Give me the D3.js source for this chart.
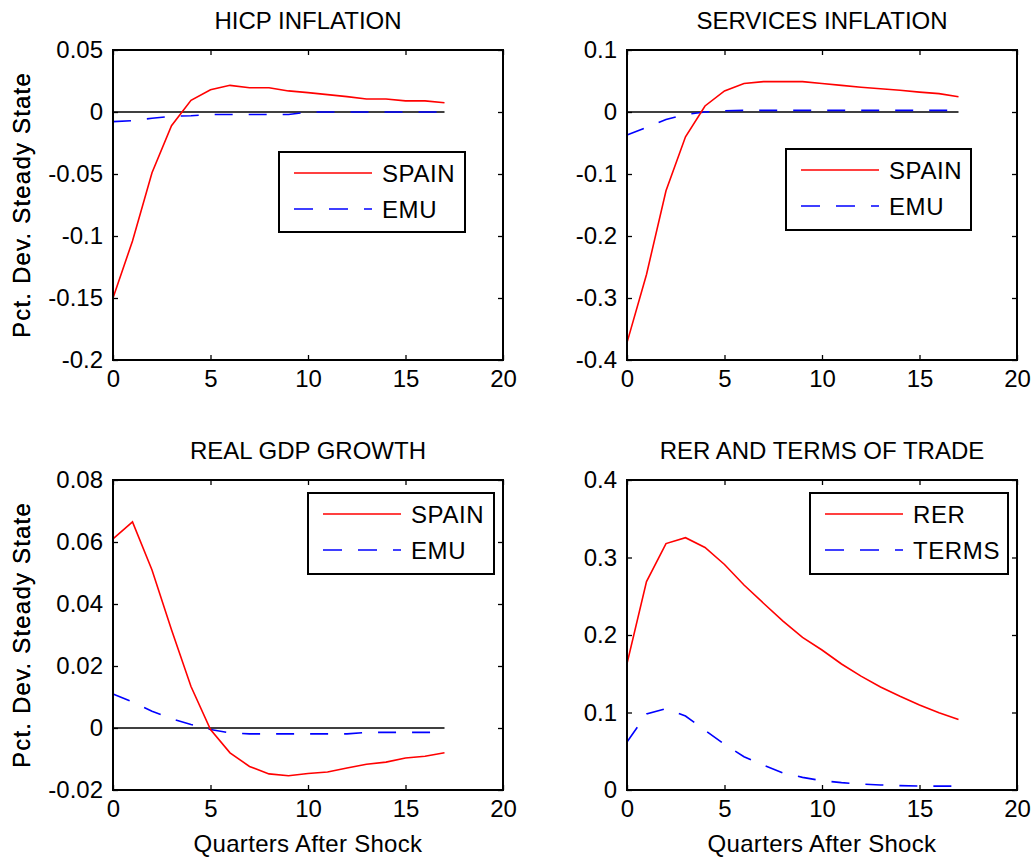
<!DOCTYPE html>
<html>
<head>
<meta charset="utf-8">
<script src="https://cdn.jsdelivr.net/npm/d3@7"></script>
<style>
  body { margin: 0; background: #fff; }
  svg text { font-family: "Liberation Sans", Arial, sans-serif; fill: #000; }
</style>
</head>
<body>
<div id="chart"></div>
<script>
var quarters = d3.range(0, 18);

// HICP inflation
var hicpSpain = [-0.150, -0.104, -0.049, -0.011, 0.0094, 0.018, 0.0215, 0.0196, 0.0196, 0.017,
                 0.0156, 0.014, 0.0124, 0.0105, 0.0105, 0.009, 0.009, 0.0075];
var hicpEmu = [-0.0078, -0.007, -0.005, -0.0035, -0.003, -0.002, -0.002, -0.002, -0.002, -0.002,
               0, 0, 0, 0, 0, 0, 0, 0];

// services inflation
var servSpain = [-0.372, -0.262, -0.127, -0.040, 0.0097, 0.034, 0.046, 0.049, 0.049, 0.049,
                 0.046, 0.043, 0.040, 0.0376, 0.035, 0.032, 0.0296, 0.0247];
var servEmu = [-0.037, -0.025, -0.012, -0.004, 0, 0.002, 0.0027, 0.0027, 0.0027, 0.0027,
               0.0027, 0.0027, 0.0027, 0.0027, 0.0027, 0.0027, 0.0027, 0.0027];

// real GDP growth
var gdpSpain = [0.061, 0.0665, 0.051, 0.0317, 0.0134, -0.0005, -0.008, -0.0124, -0.0148, -0.0154,
                -0.0147, -0.0142, -0.0129, -0.0117, -0.011, -0.0097, -0.0091, -0.008];
var gdpEmu = [0.011, 0.0084, 0.0054, 0.003, 0.0011, -0.0005, -0.0016, -0.0019, -0.0019, -0.0019,
              -0.0019, -0.0019, -0.0019, -0.0014, -0.0014, -0.0014, -0.0014, -0.0014];

// RER and terms of trade
var rer = [0.163, 0.269, 0.318, 0.3256, 0.313, 0.291, 0.2645, 0.241, 0.218, 0.197,
           0.1806, 0.1626, 0.147, 0.133, 0.121, 0.1097, 0.0998, 0.091];
var terms = [0.062, 0.098, 0.105, 0.0955, 0.077, 0.059, 0.043, 0.032, 0.022, 0.0163,
             0.012, 0.0095, 0.0077, 0.0065, 0.0056, 0.005, 0.005, 0.005];

var xTicks = [0, 5, 10, 15, 20];

var panels = [
  { title: "HICP INFLATION", left: 113, top: 50, domain: [-0.2, 0.05],
    yTicks: [-0.2, -0.15, -0.1, -0.05, 0, 0.05], fmt: ["-0.2", "-0.15", "-0.1", "-0.05", "0", "0.05"],
    a: hicpSpain, b: hicpEmu, names: ["SPAIN", "EMU"], legend: [279, 152, 186, 80], xlabel: false },
  { title: "SERVICES INFLATION", left: 627, top: 50, domain: [-0.4, 0.1],
    yTicks: [-0.4, -0.3, -0.2, -0.1, 0, 0.1], fmt: ["-0.4", "-0.3", "-0.2", "-0.1", "0", "0.1"],
    a: servSpain, b: servEmu, names: ["SPAIN", "EMU"], legend: [786, 149, 185, 81], xlabel: false },
  { title: "REAL GDP GROWTH", left: 113, top: 480, domain: [-0.02, 0.08],
    yTicks: [-0.02, 0, 0.02, 0.04, 0.06, 0.08], fmt: ["-0.02", "0", "0.02", "0.04", "0.06", "0.08"],
    a: gdpSpain, b: gdpEmu, names: ["SPAIN", "EMU"], legend: [308, 493, 186, 81], xlabel: true },
  { title: "RER AND TERMS OF TRADE", left: 627, top: 480, domain: [0, 0.4],
    yTicks: [0, 0.1, 0.2, 0.3, 0.4], fmt: ["0", "0.1", "0.2", "0.3", "0.4"],
    a: rer, b: terms, names: ["RER", "TERMS"], legend: [810, 493, 198, 81], xlabel: true }
];

var W = 1033, H = 857;
var pw = 390, ph = 310;
var fontSize = 24;

var svg = d3.select("#chart").append("svg")
  .attr("width", W)
  .attr("height", H);

panels.forEach(function(p) {
  var g = svg.append("g").attr("transform", "translate(" + p.left + "," + p.top + ")");
  var x = d3.scaleLinear().domain([0, 20]).range([0, pw]);
  var y = d3.scaleLinear().domain(p.domain).range([ph, 0]);

  // zero line
  g.append("line")
    .attr("x1", x(0)).attr("x2", x(17))
    .attr("y1", y(0)).attr("y2", y(0))
    .attr("stroke", "#000").attr("stroke-width", 1.3);

  var line = d3.line()
    .x(function(d, i) { return x(quarters[i]); })
    .y(function(d) { return y(d); });

  g.append("path").datum(p.b)
    .attr("d", line)
    .attr("fill", "none")
    .attr("stroke", "#0000ff")
    .attr("stroke-width", 1.6)
    .attr("stroke-dasharray", "18,16");

  g.append("path").datum(p.a)
    .attr("d", line)
    .attr("fill", "none")
    .attr("stroke", "#ff0000")
    .attr("stroke-width", 1.6);

  // axes with inward ticks (box style)
  var tl = 5;
  g.append("g").attr("transform", "translate(0," + ph + ")")
    .call(d3.axisBottom(x).tickValues(xTicks).tickSizeInner(-tl).tickSizeOuter(0).tickPadding(10))
    .call(function(a) { a.select(".domain").remove(); });
  g.append("g")
    .call(d3.axisTop(x).tickValues(xTicks).tickSizeInner(-tl).tickSizeOuter(0).tickFormat(""))
    .call(function(a) { a.select(".domain").remove(); });
  g.append("g")
    .call(d3.axisLeft(y).tickValues(p.yTicks).tickSizeInner(-tl).tickSizeOuter(0).tickPadding(10)
      .tickFormat(function(d, i) { return p.fmt[i]; }))
    .call(function(a) { a.select(".domain").remove(); });
  g.append("g").attr("transform", "translate(" + pw + ",0)")
    .call(d3.axisRight(y).tickValues(p.yTicks).tickSizeInner(-tl).tickSizeOuter(0).tickFormat(""))
    .call(function(a) { a.select(".domain").remove(); });

  g.selectAll(".tick line").attr("stroke", "#000").attr("stroke-width", 1.3);
  g.selectAll(".tick text")
    .style("font-size", fontSize + "px")
    .style("font-family", "Liberation Sans, Arial, sans-serif");

  g.append("rect")
    .attr("width", pw).attr("height", ph)
    .attr("fill", "none").attr("stroke", "#000").attr("stroke-width", 2);

  // title
  g.append("text")
    .attr("x", pw / 2).attr("y", -30)
    .attr("text-anchor", "middle")
    .attr("dominant-baseline", "central")
    .style("font-size", fontSize + "px")
    .text(p.title);

  // y label
  g.append("text")
    .attr("transform", "translate(" + (21 - p.left) + "," + (ph / 2) + ")rotate(-90)")
    .attr("text-anchor", "middle")
    .attr("dominant-baseline", "central")
    .style("font-size", fontSize + "px")
    .style("letter-spacing", "1.2px")
    .text("Pct. Dev. Steady State");

  if (p.xlabel) {
    g.append("text")
      .attr("x", pw / 2).attr("y", ph + 53)
      .attr("text-anchor", "middle")
      .attr("dominant-baseline", "central")
      .style("font-size", fontSize + "px")
      .style("letter-spacing", "0.3px")
      .text("Quarters After Shock");
  }

  // legend
  var lx = p.legend[0] - p.left, ly = p.legend[1] - p.top;
  var lg = g.append("g").attr("transform", "translate(" + lx + "," + ly + ")");
  lg.append("rect")
    .attr("width", p.legend[2]).attr("height", p.legend[3])
    .attr("fill", "#fff").attr("stroke", "#000").attr("stroke-width", 2);
  var rows = [{ name: p.names[0], color: "#ff0000", dash: null, dy: 21 },
              { name: p.names[1], color: "#0000ff", dash: "19,16", dy: 57 }];
  rows.forEach(function(r) {
    lg.append("line")
      .attr("x1", 15).attr("x2", 93)
      .attr("y1", r.dy).attr("y2", r.dy)
      .attr("stroke", r.color).attr("stroke-width", 1.6)
      .attr("stroke-dasharray", r.dash);
    lg.append("text")
      .attr("x", 103).attr("y", r.dy)
      .attr("dominant-baseline", "central")
      .style("font-size", fontSize + "px")
      .style("letter-spacing", "0.6px")
      .text(r.name);
  });
});
</script>
</body>
</html>
